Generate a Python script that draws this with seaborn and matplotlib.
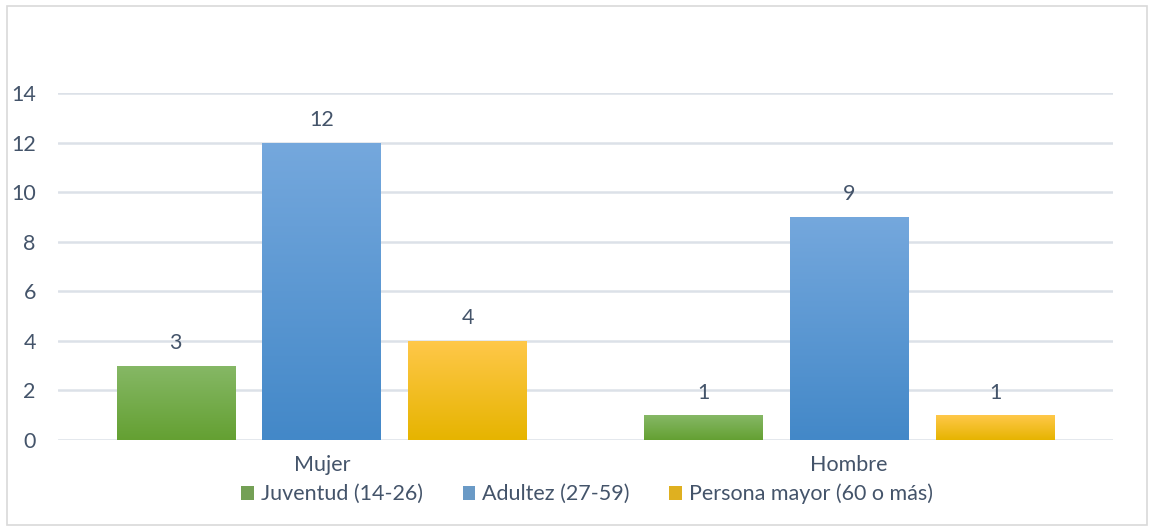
import numpy as np
import pandas as pd
import matplotlib
matplotlib.use("Agg")
import matplotlib.pyplot as plt
import seaborn as sns
from matplotlib.colors import LinearSegmentedColormap
from matplotlib.patches import Rectangle

categories = ["Mujer", "Hombre"]
series = ["Juventud (14-26)", "Adultez (27-59)", "Persona mayor (60 o más)"]
juventud = [3, 1]
adultez = [12, 9]
persona_mayor = [4, 1]
yticks = [0, 2, 4, 6, 8, 10, 12, 14]

colors_mid = ["#72AD48", "#5B9BD5", "#FFC000"]
grad_top = ["#86B866", "#75A8DD", "#FFC84A"]
grad_bot = ["#64A032", "#4388C8", "#E6B400"]

df = pd.DataFrame({
    "cat": categories * 3,
    "serie": [series[0]] * 2 + [series[1]] * 2 + [series[2]] * 2,
    "val": juventud + adultez + persona_mayor,
})

sns.set_theme(style="white")
plt.rcParams["font.family"] = ["Lato", "DejaVu Sans"]
text_color = "#44546A"
fs = 15.5

fig = plt.figure(figsize=(11.5, 5.29), dpi=100)
ax = fig.add_axes([58 / 1150, 1 - 440 / 529, (1113 - 58) / 1150, (440 - 93) / 529])

sns.barplot(data=df, x="cat", y="val", hue="serie", order=categories,
            hue_order=series, palette=colors_mid, width=0.83, gap=0.188,
            ax=ax, zorder=3, linewidth=0)

ax.set_ylim(0, 14)
ax.set_yticks(yticks)
ax.set_xlim(-0.5, 1.5)
ax.grid(axis="y", color="#DCE1E8", linewidth=1.8, zorder=0)
ax.set_axisbelow(True)
for s in ax.spines.values():
    s.set_visible(False)
ax.tick_params(axis="both", length=0, labelsize=fs, labelcolor=text_color)
ax.tick_params(axis="y", pad=16)
ax.tick_params(axis="x", pad=11)
ax.set_xlabel("")
ax.set_ylabel("")

# gradient fills + value labels
for i, container in enumerate(ax.containers):
    cmap = LinearSegmentedColormap.from_list("g", [grad_bot[i], grad_top[i]])
    for p in container.patches:
        x, w, h = p.get_x(), p.get_width(), p.get_height()
        grad = np.linspace(0, 1, 256).reshape(-1, 1)
        im = ax.imshow(grad, cmap=cmap, origin="lower", aspect="auto",
                       extent=[x, x + w, 0, h], zorder=4)
        im.set_clip_path(p)
        ax.annotate(f"{h:g}", (x + w / 2, h), xytext=(0, 9),
                    textcoords="offset points", ha="center", va="bottom",
                    fontsize=fs, color=text_color, zorder=5)
ax.set_ylim(0, 14)
ax.set_xlim(-0.5, 1.5)

handles, labels = ax.get_legend_handles_labels()
ax.get_legend().remove()
fig.legend(handles, labels, loc="center", ncol=3, frameon=False,
           bbox_to_anchor=(587 / 1150, 1 - 494 / 529), fontsize=fs,
           labelcolor=text_color, handlelength=0.6, handleheight=0.6,
           handletextpad=0.3, columnspacing=1.85, borderpad=0)

fig.patches.append(Rectangle((7 / 1150, 4 / 529), 1140 / 1150, 519 / 529,
                             transform=fig.transFigure, fill=False,
                             edgecolor="#D9D9D9", linewidth=1.2))

fig.savefig("out.png", dpi=100)
